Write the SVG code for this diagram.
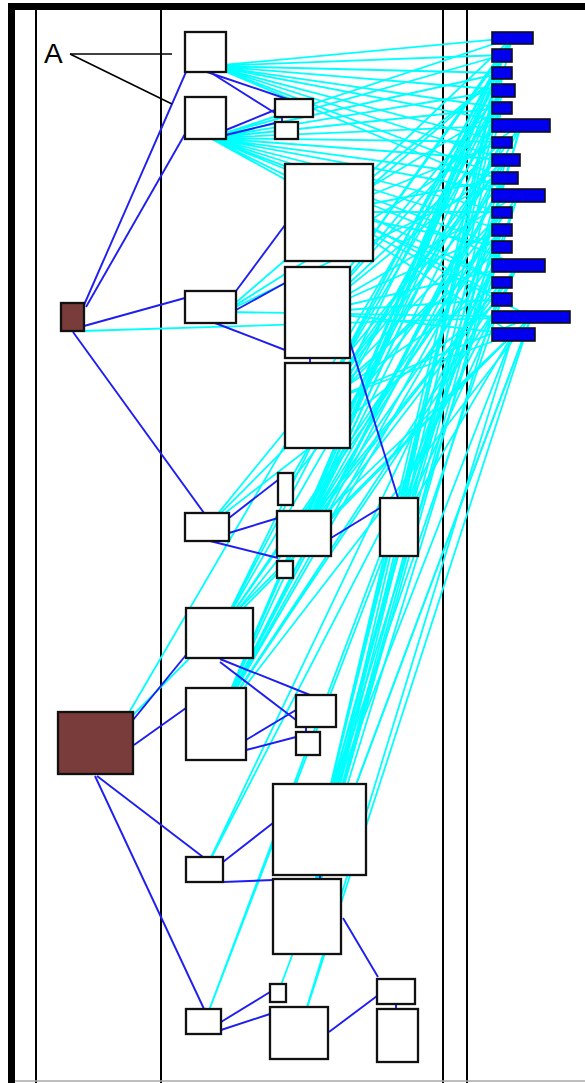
<svg xmlns="http://www.w3.org/2000/svg" width="585" height="1083" viewBox="0 0 585 1083">
<style>
.frame{stroke:#000;stroke-width:2;fill:none}
.cy{stroke:#00FFFF;stroke-width:1.8;fill:none}
.bl{stroke:#1E1EF0;stroke-width:1.9;fill:none}
.nd{fill:#fff;stroke:#111;stroke-width:2.3}
.br{fill:#7A3B3B;stroke:#111;stroke-width:2.3}
.bar{fill:#0000EE;stroke:#111;stroke-width:1.6}
.lbl{font-family:"Liberation Sans",Arial,sans-serif;font-size:28px;fill:#000}
</style>
<rect width="585" height="1083" fill="#fff"/>
<g id="frame">
<rect x="8" y="3" width="577" height="7" fill="#000"/>
<rect x="8" y="3" width="7" height="1080" fill="#000"/>
<line class="frame" x1="36" y1="10" x2="36" y2="1083"/>
<line class="frame" x1="161" y1="10" x2="161" y2="1083"/>
<line class="frame" x1="443" y1="10" x2="443" y2="1083"/>
<line class="frame" x1="467" y1="10" x2="467" y2="1083"/>
<line x1="15" y1="1081" x2="585" y2="1081" stroke="#aaa" stroke-width="1.5"/>
</g>
<g id="connectors">
<g id="cyan-links" class="cy">
<path d="M212 66L512 38M212 66L502 55M212 66L502 73M212 66L503 90M212 66L502 108M212 66L521 125M212 66L502 142M212 66L506 160M212 66L505 178M212 66L518 195"/>
<path d="M210 138L512 38M210 138L502 55M210 138L502 73M210 138L503 90M210 138L502 108M210 138L521 125M210 138L502 142M210 138L506 160M210 138L505 178M210 138L518 195M210 138L502 212M210 138L502 230M210 138L502 247M210 138L518 265M210 138L502 282M210 138L502 299"/>
<path d="M329 212L512 38M329 212L502 73M329 212L502 108M329 212L502 142M329 212L505 178M329 212L502 212M329 212L502 247M329 212L502 282M329 212L531 317M329 212L513 334"/>
<path d="M82 331L531 317"/>
<path d="M225 312L502 73M225 312L521 125M225 312L505 178M225 312L531 317"/>
<path d="M318 312L512 38M318 312L502 55M318 312L503 90M318 312L502 108M318 312L502 142M318 312L506 160M318 312L518 195M318 312L502 230M318 312L518 265M318 312L502 299M318 312L513 334"/>
<path d="M318 405L512 38M318 405L502 55M318 405L502 73M318 405L503 90M318 405L521 125M318 405L506 160M318 405L505 178M318 405L502 212M318 405L502 247M318 405L502 282M318 405L531 317M318 405L513 334"/>
<path d="M207 527L506 160M207 527L502 230M207 527L502 299"/>
<path d="M285 489L502 108M285 489L502 212"/>
<path d="M304 533L512 38M304 533L502 73M304 533L502 108M304 533L502 142M304 533L505 178M304 533L502 212M304 533L502 247M304 533L502 282M304 533L531 317"/>
<path d="M285 569L503 90M285 569L518 265"/>
<path d="M399 527L502 55M399 527L521 125M399 527L518 195M399 527L518 265M399 527L513 334"/>
<path d="M219 633L512 38M219 633L503 90M219 633L502 142M219 633L518 195M219 633L502 230M219 633L502 282M219 633L513 334"/>
<path d="M216 724L512 38M216 724L502 55M216 724L502 73M216 724L502 108M216 724L521 125M216 724L506 160M216 724L505 178M216 724L502 212M216 724L502 230M216 724L518 265M216 724L502 299M216 724L531 317"/>
<path d="M120 728L502 73M120 728L513 334"/>
<path d="M320 830L512 38M320 830L502 55M320 830L503 90M320 830L521 125M320 830L506 160M320 830L518 195M320 830L502 247M320 830L502 299M320 830L513 334"/>
<path d="M205 870L502 247M205 870L518 265"/>
<path d="M307 916L502 73M307 916L502 108M307 916L502 142M307 916L505 178M307 916L502 212M307 916L502 230M307 916L502 282M307 916L531 317"/>
<path d="M278 993L531 317"/>
<path d="M205 1021L502 230M205 1021L502 247"/>
<path d="M299 1033L531 317M299 1033L513 334"/>
</g>
<g id="blue-links" class="bl">
<path d="M84 305L186 72"/>
<path d="M86 307L185 134"/>
<path d="M84 326L185 298"/>
<path d="M73 332L204 513"/>
<path d="M236 291L285 225"/>
<path d="M236 310L285 283"/>
<path d="M215 323L285 350"/>
<path d="M207 72L287 99"/>
<path d="M213 74L275 113"/>
<path d="M226 130L275 110"/>
<path d="M226 135L275 123"/>
<path d="M282 117L282 122"/>
<path d="M310 358L310 363"/>
<path d="M350 342L398 498"/>
<path d="M229 518L278 480"/>
<path d="M229 533L278 518"/>
<path d="M210 541L278 558"/>
<path d="M331 538L380 508"/>
<path d="M133 720L186 655"/>
<path d="M134 745L186 708"/>
<path d="M97 776L203 857"/>
<path d="M95 776L204 1009"/>
<path d="M220 659L310 695"/>
<path d="M220 662L296 720"/>
<path d="M246 740L296 710"/>
<path d="M246 750L296 737"/>
<path d="M306 727L306 732"/>
<path d="M223 862L273 823"/>
<path d="M223 882L273 880"/>
<path d="M320 875L320 879"/>
<path d="M221 1022L270 992"/>
<path d="M221 1030L270 1014"/>
<path d="M343 918L378 977"/>
<path d="M329 1032L377 996"/>
<path d="M396 1004L396 1009"/>
</g>
<g id="label-lines" stroke="#000" stroke-width="1.6" fill="none">
<path d="M70 54L172 54"/>
<path d="M70 54L172 104"/>
</g>
</g>
<text class="lbl" x="44" y="63">A</text>
<g id="n-a1"><rect class="nd" x="185" y="32" width="41" height="40"/></g>
<g id="n-a2"><rect class="nd" x="185" y="97" width="41" height="42"/></g>
<g id="n-s1"><rect class="nd" x="275" y="99" width="38" height="18"/></g>
<g id="n-s2"><rect class="nd" x="275" y="122" width="23" height="17"/></g>
<g id="n-r1"><rect class="nd" x="285" y="164" width="88" height="97"/></g>
<g id="n-r2"><rect class="nd" x="285" y="267" width="65" height="91"/></g>
<g id="n-r3"><rect class="nd" x="285" y="363" width="65" height="85"/></g>
<g id="n-brown1"><rect class="br" x="61" y="303" width="23" height="28"/></g>
<g id="n-mid"><rect class="nd" x="185" y="291" width="51" height="32"/></g>
<g id="n-513"><rect class="nd" x="185" y="513" width="44" height="28"/></g>
<g id="n-tall"><rect class="nd" x="278" y="473" width="15" height="32"/></g>
<g id="n-511"><rect class="nd" x="277" y="511" width="54" height="45"/></g>
<g id="n-561"><rect class="nd" x="277" y="561" width="16" height="17"/></g>
<g id="n-380"><rect class="nd" x="380" y="498" width="38" height="58"/></g>
<g id="n-608"><rect class="nd" x="186" y="608" width="67" height="50"/></g>
<g id="n-688"><rect class="nd" x="186" y="688" width="60" height="72"/></g>
<g id="n-695"><rect class="nd" x="296" y="695" width="40" height="32"/></g>
<g id="n-732"><rect class="nd" x="296" y="732" width="24" height="23"/></g>
<g id="n-brown2"><rect class="br" x="58" y="712" width="75" height="62"/></g>
<g id="n-784"><rect class="nd" x="273" y="784" width="93" height="91"/></g>
<g id="n-879"><rect class="nd" x="273" y="879" width="68" height="75"/></g>
<g id="n-857"><rect class="nd" x="186" y="857" width="37" height="25"/></g>
<g id="n-1009"><rect class="nd" x="186" y="1009" width="35" height="25"/></g>
<g id="n-984"><rect class="nd" x="270" y="984" width="16" height="18"/></g>
<g id="n-1007"><rect class="nd" x="270" y="1007" width="58" height="52"/></g>
<g id="n-979"><rect class="nd" x="377" y="979" width="38" height="25"/></g>
<g id="n-r1009"><rect class="nd" x="377" y="1009" width="41" height="53"/></g>
<g id="bars">
<rect class="bar" x="492" y="32" width="41" height="12"/>
<rect class="bar" x="492" y="49" width="20" height="13"/>
<rect class="bar" x="492" y="67" width="20" height="12"/>
<rect class="bar" x="492" y="84" width="23" height="13"/>
<rect class="bar" x="492" y="102" width="20" height="12"/>
<rect class="bar" x="492" y="119" width="58" height="13"/>
<rect class="bar" x="492" y="137" width="20" height="11"/>
<rect class="bar" x="492" y="154" width="28" height="12"/>
<rect class="bar" x="492" y="172" width="26" height="12"/>
<rect class="bar" x="492" y="189" width="53" height="13"/>
<rect class="bar" x="492" y="207" width="20" height="11"/>
<rect class="bar" x="492" y="224" width="20" height="12"/>
<rect class="bar" x="492" y="241" width="20" height="12"/>
<rect class="bar" x="492" y="259" width="53" height="13"/>
<rect class="bar" x="492" y="277" width="20" height="11"/>
<rect class="bar" x="492" y="293" width="20" height="13"/>
<rect class="bar" x="492" y="311" width="78" height="12"/>
<rect class="bar" x="492" y="328" width="43" height="13"/>
</g>
</svg>
